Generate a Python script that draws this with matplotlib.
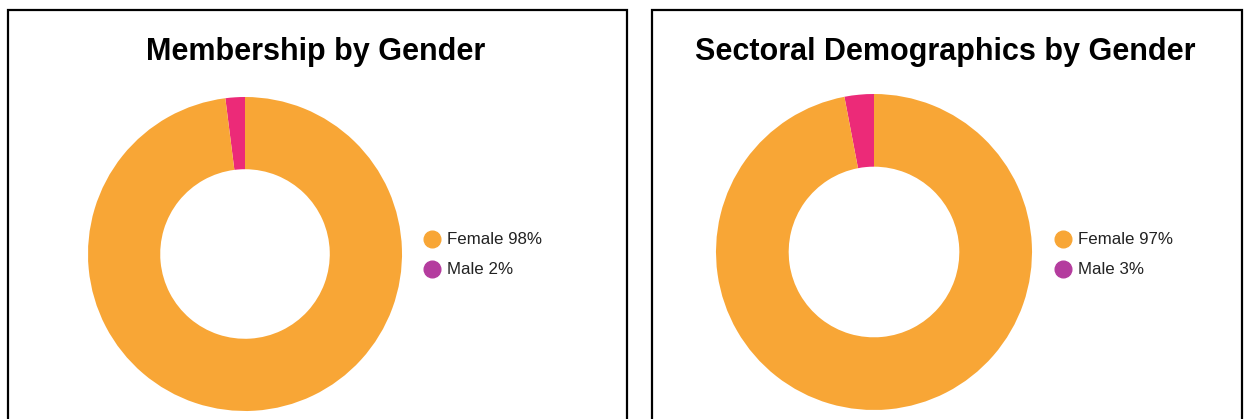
import matplotlib
matplotlib.use('Agg')
import matplotlib.pyplot as plt
from matplotlib.patches import Rectangle
from matplotlib.lines import Line2D

W, H = 1244, 419

titles = ['Membership by Gender', 'Sectoral Demographics by Gender']
genders = ['Female', 'Male']
membership_pct = [98, 2]
sector_pct = [97, 3]

ring_colors = {'Female': '#F8A636', 'Male': '#EC2A78'}
legend_colors = {'Female': '#F8A636', 'Male': '#B43C9E'}

plt.rcParams['font.family'] = ['Liberation Sans', 'DejaVu Sans']

fig = plt.figure(figsize=(W / 100, H / 100), dpi=100)
fig.patch.set_facecolor('white')

# panel layout in pixels: frame (x0, x1), ring centre, radius, legend x
panels = [
    dict(frame=(8, 627), cx=245, cy=254, r=157, lx=432, title_x=316),
    dict(frame=(652, 1242), cx=874, cy=252, r=158, lx=1063, title_x=945),
]
values = [membership_pct, sector_pct]


def fx(px):
    return px / W


def fy(py):
    return 1 - py / H


for panel, title, vals in zip(panels, titles, values):
    x0, x1 = panel['frame']
    fig.add_artist(Rectangle((fx(x0), fy(H + 20)), fx(x1 - x0), (H + 10) / H,
                             transform=fig.transFigure, fill=False,
                             edgecolor='black', linewidth=1.6))

    r = panel['r']
    ax = fig.add_axes([fx(panel['cx'] - r), fy(panel['cy'] + r), fx(2 * r), 2 * r / H])
    # male first so its wedge sits just left of 12 o'clock
    order = [1, 0]
    ax.pie([vals[i] for i in order],
           colors=[ring_colors[genders[i]] for i in order],
           startangle=90, counterclock=True, radius=1,
           wedgeprops=dict(width=0.46, edgecolor='none'))
    ax.set_xlim(-1, 1)
    ax.set_ylim(-1, 1)
    ax.set_aspect('equal')
    ax.axis('off')

    fig.text(fx(panel['title_x']), fy(60), title, ha='center', va='baseline',
             fontsize=22, fontweight='bold', color='black')

    for k, (g, v) in enumerate(zip(genders, vals)):
        y = 239 + k * 30
        fig.add_artist(Line2D([fx(panel['lx'])], [fy(y)], marker='o', markersize=12,
                              color=legend_colors[g], linestyle='none',
                              transform=fig.transFigure))
        fig.text(fx(panel['lx'] + 15), fy(y), f'{g} {v}%', ha='left', va='center',
                 fontsize=12.2, color='#222222')

fig.savefig('out.png', dpi=100, facecolor='white')
